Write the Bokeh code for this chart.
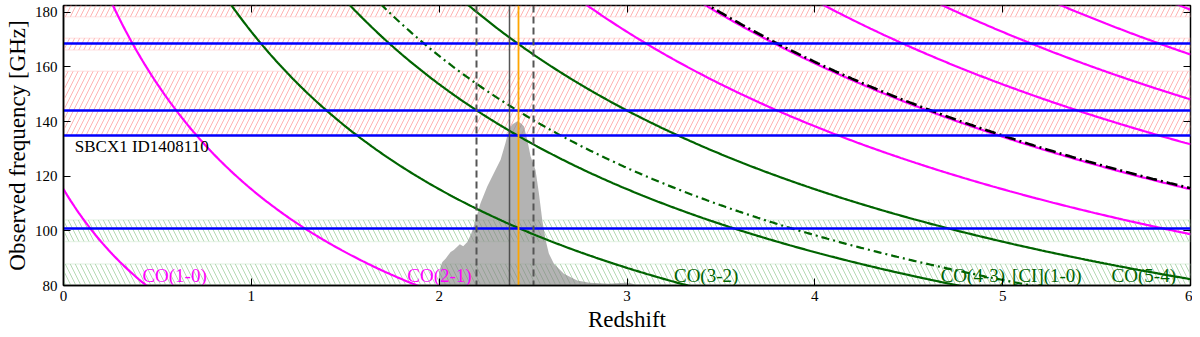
import numpy as np
from bokeh.plotting import figure
from bokeh.models import LinearAxis, FixedTicker, BoxAnnotation, Range1d
from bokeh.core.properties import value
from bokeh.embed import file_html
from bokeh.resources import INLINE

# ---------------- data ----------------
Z_MIN, Z_MAX = 0.0, 6.0
F_MIN, F_MAX = 80.0, 182.5

x_ticks = [0, 1, 2, 3, 4, 5, 6]
y_ticks = [80, 100, 120, 140, 160, 180]

line_names = ["CO(1-0)", "CO(2-1)", "CO(3-2)", "CO(4-3)", "[CI](1-0)", "CO(5-4)",
              "CO(6-5)", "CO(7-6)", "[CI](2-1)", "CO(8-7)", "CO(9-8)", "CO(10-9)", "CO(11-10)"]
rest_ghz = [115.27, 230.54, 345.80, 461.04, 492.16, 576.27,
            691.47, 806.65, 809.34, 921.80, 1036.91, 1151.99, 1267.01]
line_colors = ["magenta", "magenta", "darkgreen", "darkgreen", "darkgreen", "darkgreen",
               "magenta", "magenta", "black", "magenta", "magenta", "magenta", "magenta"]
line_dashes = ["solid", "solid", "solid", "solid", "8 4 2 4", "solid",
               "solid", "solid", "11 4 2 4", "solid", "solid", "solid", "solid"]

label_text = ["CO(1-0)", "CO(2-1)", "CO(3-2)", "CO(4-3)", "[CI](1-0)", "CO(5-4)"]
label_z = [0.42, 1.83, 3.25, 4.67, 5.05, 5.58]
label_f = [83.6, 83.6, 83.6, 83.6, 83.6, 83.6]
label_colors = ["magenta", "magenta", "darkgreen", "darkgreen", "darkgreen", "darkgreen"]

obs_ghz = [101.0, 134.8, 143.9, 168.6]

red_lo = [134.9, 166.2, 178.4]
red_hi = [158.4, 170.5, 190.0]
green_lo = [96.1, 70.0]
green_hi = [104.0, 87.9]

z_dashed = [2.20, 2.50]
z_phot = [2.375]
z_spec = [2.424]

pdf_z = [1.995, 2.000, 2.007, 2.017, 2.034, 2.061, 2.078, 2.110, 2.128, 2.150, 2.171,
         2.194, 2.220, 2.256, 2.291, 2.327, 2.353, 2.371, 2.389, 2.416, 2.433, 2.451,
         2.469, 2.487, 2.513, 2.531, 2.549, 2.567, 2.584, 2.611, 2.664, 2.735, 2.80,
         2.90, 2.97, 3.00, 3.03, 3.05]
pdf_f = [80.0, 85.0, 86.7, 88.6, 89.8, 92.3, 93.0, 95.1, 94.4, 95.9, 99.0,
         103.9, 110.1, 116.2, 121.1, 126.0, 132.2, 137.0, 138.9, 140.1, 139.5, 138.3,
         133.4, 127.2, 122.3, 113.8, 103.9, 96.6, 91.7, 88.0, 84.3, 81.8, 81.0,
         80.6, 80.9, 81.1, 80.6, 80.0]

source_name = "SBCX1 ID1408110"
source_pos = (0.06, 131.0)

# ---------------- figure ----------------
FONT = "Liberation Serif"

p = figure(frame_width=1127, frame_height=280,
           x_range=Range1d(Z_MIN, Z_MAX), y_range=Range1d(F_MIN, F_MAX),
           output_backend="svg", toolbar_location=None,
           min_border_left=63, min_border_right=2, min_border_top=5, min_border_bottom=40,
           background_fill_color="white", border_fill_color="white")
p.xgrid.visible = False
p.ygrid.visible = False
p.outline_line_color = "black"
p.outline_line_width = 1.5

# hatched bands
for lo, hi in zip(red_lo, red_hi):
    p.add_layout(BoxAnnotation(bottom=lo, top=hi, fill_alpha=0.0,
                               hatch_pattern="/", hatch_color="#ff9999", hatch_alpha=0.75,
                               hatch_scale=10, hatch_weight=1,
                               line_color="#ffbbbb", line_width=1.5, level="underlay"))
for lo, hi in zip(green_lo, green_hi):
    p.add_layout(BoxAnnotation(bottom=lo, top=hi, fill_alpha=0.0,
                               hatch_pattern="\\", hatch_color="#99cc99", hatch_alpha=0.75,
                               hatch_scale=10, hatch_weight=1,
                               line_color="#bbddbb", line_width=1.5, level="underlay"))

# redshift PDF
p.varea(x=pdf_z, y1=[F_MIN] * len(pdf_z), y2=pdf_f, fill_color="gray", fill_alpha=0.6)

# line tracks
zz = np.linspace(Z_MIN, Z_MAX, 600)
for nu, col, dash in zip(rest_ghz, line_colors, line_dashes):
    w = 2.6 if col == "black" else 2.2
    p.line(zz, nu / (1.0 + zz), line_color=col, line_width=w, line_dash=dash)

# observed lines
p.hspan(y=obs_ghz, line_color="#0000ff", line_width=2.5)

# redshift markers
p.vspan(x=z_dashed, line_color="#555555", line_width=2, line_dash="7 4")
p.vspan(x=z_phot, line_color="#444444", line_width=1.5, line_alpha=0.9)
p.vspan(x=z_spec, line_color="orange", line_width=1.8)

# labels
p.text(x=label_z, y=label_f, text=label_text, text_color=label_colors,
       text_font=value(FONT), text_font_size="19px", text_baseline="middle",
       text_align="left")
p.text(x=[source_pos[0]], y=[source_pos[1]], text=[source_name], text_color="black",
       text_font=value(FONT), text_font_size="17px", text_baseline="middle",
       text_align="left")

# axes
for ax in (p.xaxis[0], p.yaxis[0]):
    ax.major_tick_in = 7
    ax.major_tick_out = 0
    ax.minor_tick_in = 0
    ax.minor_tick_out = 0
    ax.axis_line_color = "black"
    ax.axis_line_width = 1.5
    ax.major_label_text_font = FONT
    ax.major_label_text_font_size = "15px"
    ax.major_label_text_color = "black"
    ax.axis_label_text_font = FONT
    ax.axis_label_text_font_size = "23px"
    ax.axis_label_text_font_style = "normal"
    ax.axis_label_text_color = "black"

p.xaxis[0].ticker = FixedTicker(ticks=x_ticks)
p.yaxis[0].ticker = FixedTicker(ticks=y_ticks)
p.xaxis[0].axis_label = "Redshift"
p.yaxis[0].axis_label = "Observed frequency [GHz]"
p.xaxis[0].major_label_standoff = 5
p.xaxis[0].axis_label_standoff = 3
p.yaxis[0].major_label_standoff = 6
p.yaxis[0].axis_label_standoff = 2

for ticks, side in ((x_ticks, "above"), (y_ticks, "right")):
    ax = LinearAxis(ticker=FixedTicker(ticks=ticks),
                    major_label_overrides={t: "" for t in ticks},
                    major_label_standoff=0, major_tick_in=7, major_tick_out=0,
                    minor_tick_in=0, minor_tick_out=0, axis_line_color=None)
    p.add_layout(ax, side)

open("out.html", "w").write(file_html(p, INLINE))
